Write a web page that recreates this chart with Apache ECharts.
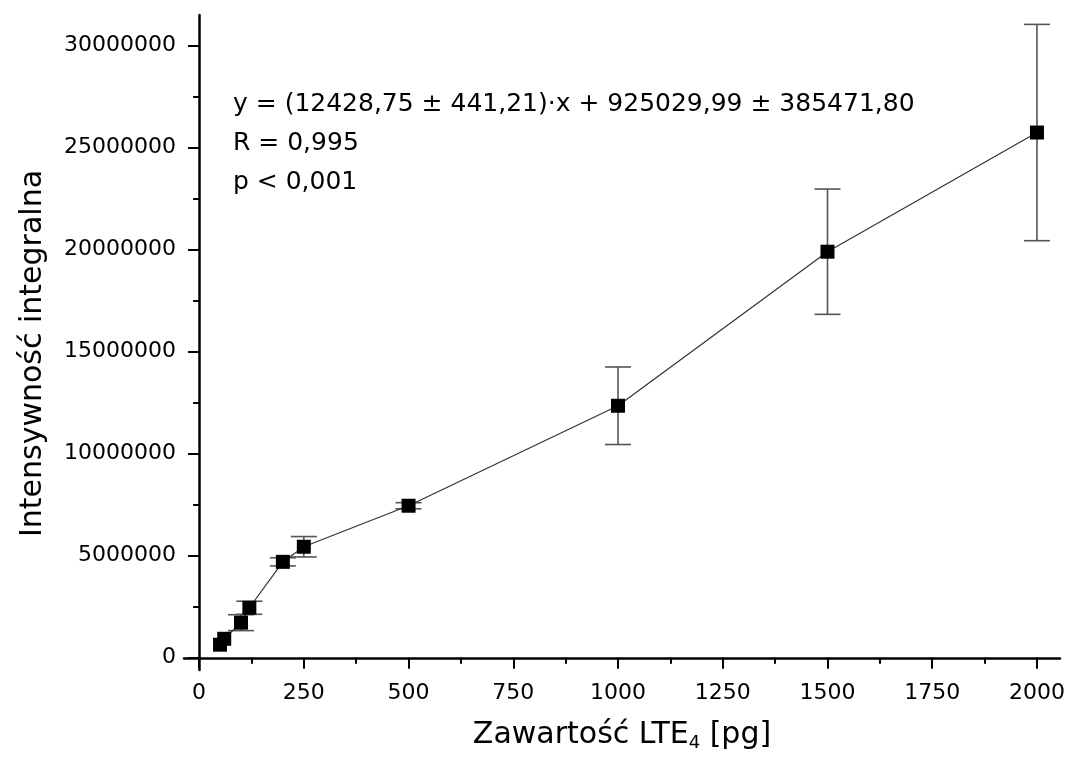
<!DOCTYPE html>
<html>
<head>
<meta charset="utf-8">
<script src="https://cdn.jsdelivr.net/npm/echarts@6/dist/echarts.min.js"></script>
<style>
  html, body { margin: 0; padding: 0; background: #fff; }
  #chart { width: 1068px; height: 758px; }
</style>
</head>
<body>
<div id="chart"></div>
<script>
// LTE4 calibration: amount on the column [pg] vs. integrated intensity
const concentration = [50, 60, 100, 120, 200, 250, 500, 1000, 1500, 2000];
const intensity = [640000, 930000, 1720000, 2450000, 4700000, 5440000, 7450000, 12350000, 19900000, 25740000];
const intensityError = [0, 0, 390000, 320000, 200000, 500000, 150000, 1900000, 3070000, 5300000];

const xMajorTicks = [0, 250, 500, 750, 1000, 1250, 1500, 1750, 2000];
const xMinorTicks = [125, 375, 625, 875, 1125, 1375, 1625, 1875];
const yMajorTicks = [0, 5000000, 10000000, 15000000, 20000000, 25000000, 30000000];
const yMinorTicks = [2500000, 7500000, 12500000, 17500000, 22500000, 27500000];

const fitText = [
  'y = (12428,75 ± 441,21)·x + 925029,99 ± 385471,80',
  'R = 0,995',
  'p < 0,001'
];

const FONT = 'DejaVu Sans';
const X_RANGE = [-36, 2055];
const Y_RANGE = [-600000, 31500000];

const chart = echarts.init(document.getElementById('chart'), null, { renderer: 'canvas' });

const baseAxis = {
  type: 'value',
  splitLine: { show: false },
  axisLine: { onZero: true, onZeroAxisIndex: 0, lineStyle: { color: '#000', width: 2.5 } }
};

const option = {
  animation: false,
  backgroundColor: '#fff',
  textStyle: { fontFamily: FONT, color: '#000' },
  grid: { left: 184, right: 8, top: 15, bottom: 88, containLabel: false, outerBoundsMode: 'none' },
  xAxis: [
    Object.assign({}, baseAxis, {
      position: 'bottom',
      min: X_RANGE[0], max: X_RANGE[1],
      name: 'Zawartość LTE{sub|4} [pg]',
      nameLocation: 'middle',
      nameGap: 48,
      nameTextStyle: {
        fontFamily: FONT, fontSize: 30, color: '#000',
        rich: { sub: { fontFamily: FONT, fontSize: 18, color: '#000', padding: [16, 0, 0, 0] } }
      },
      axisTick: { show: true, inside: false, length: 11, customValues: xMajorTicks,
                  lineStyle: { color: '#000', width: 2 } },
      axisLabel: { customValues: xMajorTicks, margin: 12, fontFamily: FONT, fontSize: 22, color: '#000',
                   formatter: v => v.toFixed(0) }
    }),
    Object.assign({}, baseAxis, {
      position: 'bottom',
      min: X_RANGE[0], max: X_RANGE[1],
      axisLine: { show: false, onZero: true, onZeroAxisIndex: 0 },
      axisTick: { show: true, inside: false, length: 6, customValues: xMinorTicks,
                  lineStyle: { color: '#000', width: 2 } },
      axisLabel: { show: false }
    })
  ],
  yAxis: [
    Object.assign({}, baseAxis, {
      position: 'left',
      min: Y_RANGE[0], max: Y_RANGE[1],
      name: 'Intensywność integralna',
      nameLocation: 'middle',
      nameGap: 136,
      nameTextStyle: { fontFamily: FONT, fontSize: 30, color: '#000', padding: [0, 22, 0, 0] },
      axisTick: { show: true, inside: false, length: 11, customValues: yMajorTicks,
                  lineStyle: { color: '#000', width: 2 } },
      axisLabel: { customValues: yMajorTicks, margin: 8, fontFamily: FONT, fontSize: 22, color: '#000',
                   formatter: v => v.toFixed(0) }
    }),
    Object.assign({}, baseAxis, {
      position: 'left',
      min: Y_RANGE[0], max: Y_RANGE[1],
      axisLine: { show: false, onZero: true, onZeroAxisIndex: 0 },
      axisTick: { show: true, inside: false, length: 6, customValues: yMinorTicks,
                  lineStyle: { color: '#000', width: 2 } },
      axisLabel: { show: false }
    })
  ],
  graphic: fitText.map((t, i) => ({
    type: 'text',
    left: 233,
    top: 92 + i * 39,
    style: { text: t, fontFamily: FONT, fontSize: 25, fill: '#000' }
  })),
  series: [
    {
      // vertical error bars with caps
      type: 'custom',
      xAxisIndex: 0, yAxisIndex: 0,
      data: concentration.map((c, i) => [c, intensity[i], intensityError[i]]),
      encode: { x: 0, y: 1 },
      z: 2,
      silent: true,
      renderItem(params, api) {
        const x = api.value(0), y = api.value(1), e = api.value(2);
        if (!e) return null;
        const top = api.coord([x, y + e]);
        const bot = api.coord([x, y - e]);
        const hw = 13;
        const st = { stroke: '#555', lineWidth: 1.6 };
        return {
          type: 'group',
          children: [
            { type: 'line', shape: { x1: top[0], y1: top[1], x2: bot[0], y2: bot[1] }, style: st },
            { type: 'line', shape: { x1: top[0] - hw, y1: top[1], x2: top[0] + hw, y2: top[1] }, style: st },
            { type: 'line', shape: { x1: bot[0] - hw, y1: bot[1], x2: bot[0] + hw, y2: bot[1] }, style: st }
          ]
        };
      }
    },
    {
      type: 'line',
      xAxisIndex: 0, yAxisIndex: 0,
      data: concentration.map((c, i) => [c, intensity[i]]),
      symbol: 'rect',
      symbolSize: 14,
      showAllSymbol: true,
      itemStyle: { color: '#000' },
      lineStyle: { color: '#333', width: 1.2 },
      emphasis: { disabled: true },
      z: 3
    }
  ]
};

chart.setOption(option);
</script>
</body>
</html>
